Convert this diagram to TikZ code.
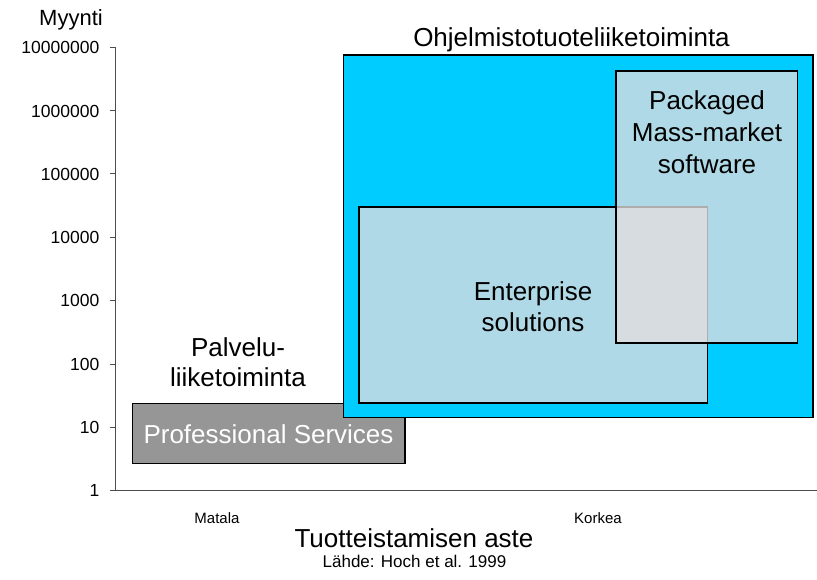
\documentclass[tikz,border=0pt]{standalone}
\usepackage{fontspec}
\setmainfont{Liberation Sans}
\definecolor{cyanfill}{RGB}{0,204,255}
\definecolor{boxgray}{RGB}{225,221,223}
\definecolor{servgray}{RGB}{150,150,150}
\newcommand{\fsz}[2]{\fontsize{#1}{#2}\selectfont}

\begin{document}
\begin{tikzpicture}[x=1pt,y=-1pt,
  ticklabel/.style={anchor=east,inner sep=0pt,font=\fsz{17.5}{20}},
  biglabel/.style={inner sep=0pt,align=center,font=\fsz{26}{31}},
  smalllabel/.style={anchor=base,inner sep=0pt,font=\fsz{15}{18}},
  axisline/.style={draw=black!70,line width=1pt},
  area/.style={draw=black,line width=1.8pt},
  segment/.style={area,fill=boxgray,fill opacity=0.78}]
\useasboundingbox (0,0) rectangle (817,580);
% axes
\draw[axisline] (115,47.5) -- (115,490) -- (817,490);
\draw[axisline] (109.5,47.5) -- (115,47.5);
\draw[axisline] (109.5,111) -- (115,111);
\draw[axisline] (109.5,174) -- (115,174);
\draw[axisline] (109.5,237.3) -- (115,237.3);
\draw[axisline] (109.5,300.7) -- (115,300.7);
\draw[axisline] (109.5,364) -- (115,364);
\draw[axisline] (109.5,427) -- (115,427);
\draw[axisline] (109.5,490) -- (115,490);
\node[ticklabel] (t7) at (99.5,47.5){10000000};
\node[ticklabel] (t6) at (99.5,111){1000000};
\node[ticklabel] (t5) at (99.5,174){100000};
\node[ticklabel] (t4) at (99.5,237.3){10000};
\node[ticklabel] (t3) at (99.5,300.7){1000};
\node[ticklabel] (t2) at (99.5,364){100};
\node[ticklabel] (t1) at (99.5,427){10};
\node[ticklabel] (t0) at (99.5,490){1};
\node[anchor=base,inner sep=0pt,font=\fsz{22}{26}] (myynti) at (71,26){Myynti};
% areas
\draw[area,fill=servgray] (132.5,403.5) rectangle (405,463.5);
\draw[area,fill=cyanfill] (343.5,55) rectangle (813,417.5);
\draw[segment] (359,207) rectangle (707.5,403);
\draw[segment] (616,71) rectangle (797.5,343);
% labels
\node[biglabel,text=white] (services) at (268.5,434.5){Professional Services};
\node[biglabel,font=\fsz{26}{30}] (palvelu) at (238,362){Palvelu-\\liiketoiminta};
\node[biglabel,anchor=base] (ohjelmisto) at (571.5,47){Ohjelmistotuoteliiketoiminta};
\node[biglabel,font=\fsz{26}{32}] (packaged) at (707,132){Packaged\\Mass-market\\software};
\node[biglabel] (enterprise) at (533,306.5){Enterprise\\solutions};
\node[smalllabel] (matala) at (217,523){Matala};
\node[smalllabel] (korkea) at (598,523){Korkea};
\node[biglabel,anchor=base] (aste) at (414,547){Tuotteistamisen aste};
\node[smalllabel,font=\fsz{17}{20}] (lahde) at (414.5,567){Lähde: Hoch et al. 1999};
\end{tikzpicture}
\end{document}
